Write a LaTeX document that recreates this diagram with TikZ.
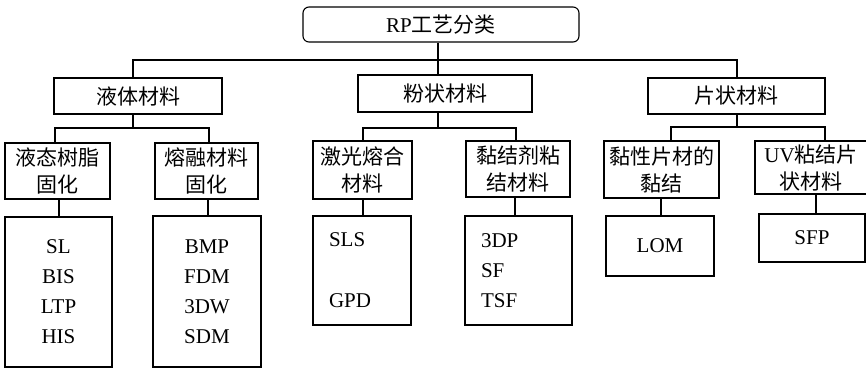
\documentclass[tikz,border=0pt]{standalone}
\usepackage{fontspec}
\setmainfont{Liberation Serif}
\newfontfamily\cjk{Noto Sans CJK SC}
\begin{document}
\begin{tikzpicture}[x=1pt,y=-1pt,line width=1.1pt,
  box/.style={draw,inner sep=0pt,align=center,
    font=\cjk\fontsize{21}{27}\selectfont},
  listbox/.style={draw,inner sep=0pt,align=center,
    font=\rmfamily\fontsize{21}{30}\selectfont},
  leftlist/.style={listbox,align=left,inner xsep=16pt,inner ysep=0pt},
  link/.style={draw}]
\clip (0,0) rectangle (866,368);
\useasboundingbox (0,0) rectangle (866,368);
% root
\node[box,rounded corners=6pt,minimum width=276pt,minimum height=35pt] (root) at (441,24.5) {{\rmfamily RP}工艺分类};
% level 1
\node[box,minimum width=168pt,minimum height=36pt] (L1a) at (138,96) {液体材料};
\node[box,minimum width=174pt,minimum height=37pt] (L1b) at (445,93.5) {粉状材料};
\node[box,minimum width=177pt,minimum height=36pt] (L1c) at (736.5,96) {片状材料};
% level 2
\node[box,minimum width=105pt,minimum height=56pt] (L2a1) at (57.5,171) {液态树脂\\固化};
\node[box,minimum width=103pt,minimum height=56pt] (L2a2) at (206.5,171) {熔融材料\\固化};
\node[box,minimum width=99pt,minimum height=58pt] (L2b1) at (362.5,170) {激光熔合\\材料};
\node[box,minimum width=104pt,minimum height=56pt] (L2b2) at (518,169) {黏结剂粘\\结材料};
\node[box,minimum width=115pt,minimum height=57pt] (L2c1) at (661.5,169.5) {黏性片材的\\黏结};
\node[box,minimum width=112pt,minimum height=53pt] (L2c2) at (811,167.5) {{\rmfamily UV}粘结片\\状材料};
% level 3
\node[listbox,minimum width=107pt,minimum height=150pt] (L3a1) at (58.5,292) {SL\\BIS\\LTP\\HIS};
\node[listbox,minimum width=108pt,minimum height=151pt] (L3a2) at (207,291.5) {BMP\\FDM\\3DW\\SDM};
\node[leftlist,text width=66pt,minimum height=109pt] (L3b1) at (362,270.5) {SLS\\[31pt]GPD};
\node[leftlist,text width=75pt,minimum height=109pt] (L3b2) at (518.5,270.5) {3DP\\SF\\TSF};
\node[listbox,minimum width=108pt,minimum height=60pt] (L3c1) at (660,246) {LOM};
\node[listbox,minimum width=106pt,minimum height=48pt] (L3c2) at (812,238) {SFP};
% connectors root -> level 1
\draw[link] (root.south -| 438,0) -- (L1b.north -| 438,0);
\draw[link] (L1a.north -| 133,0) -- (133,60) -- (737,60) -- (L1c.north -| 737,0);
% level 1 -> level 2
\draw[link] (L1a.south -| 133,0) -- (133,128);
\draw[link] (L2a1.north -| 55,0) -- (55,128) -- (209,128) -- (L2a2.north -| 209,0);
\draw[link] (L1b.south -| 438,0) -- (438,128);
\draw[link] (L2b1.north -| 363,0) -- (363,128) -- (516,128) -- (L2b2.north -| 516,0);
\draw[link] (L1c.south -| 737,0) -- (737,127);
\draw[link] (L2c1.north -| 671,0) -- (671,127) -- (825,127) -- (L2c2.north -| 825,0);
% level 2 -> level 3
\draw[link] (L2a1.south -| 59,0) -- (L3a1.north -| 59,0);
\draw[link] (L2a2.south -| 208,0) -- (L3a2.north -| 208,0);
\draw[link] (L2b1.south -| 363,0) -- (L3b1.north -| 363,0);
\draw[link] (L2b2.south -| 515,0) -- (L3b2.north -| 515,0);
\draw[link] (L2c1.south -| 661,0) -- (L3c1.north -| 661,0);
\draw[link] (L2c2.south -| 816,0) -- (L3c2.north -| 816,0);
\end{tikzpicture}
\end{document}
